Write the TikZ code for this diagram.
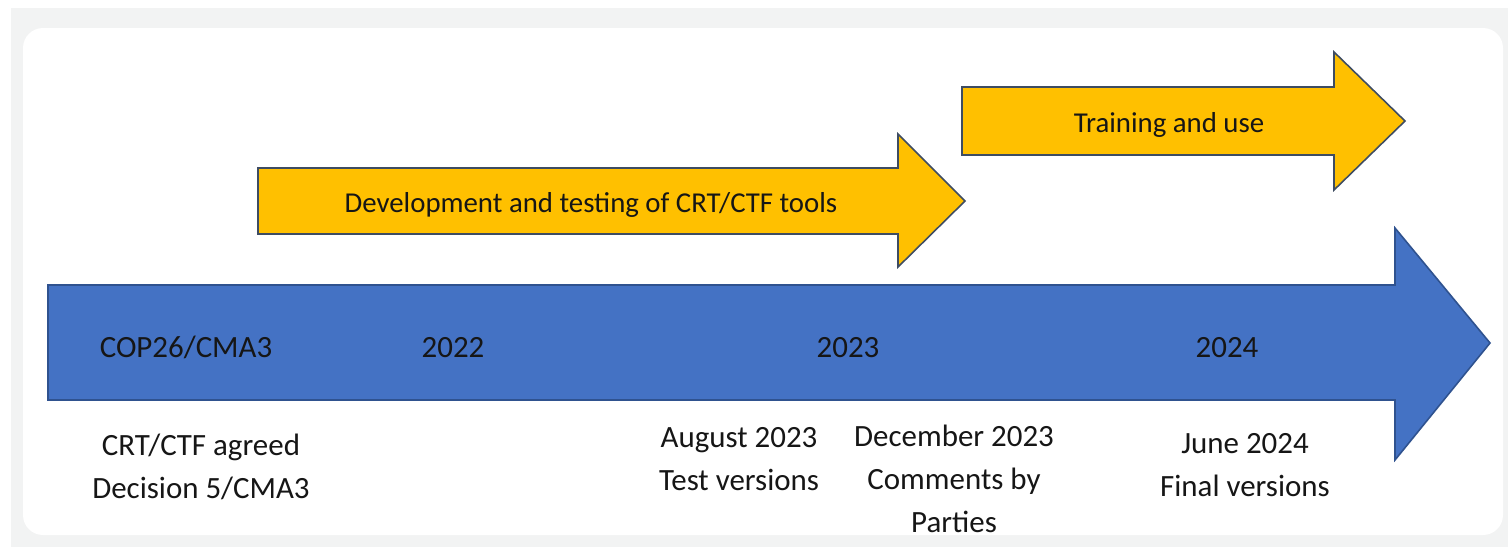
\documentclass[tikz,border=0pt]{standalone}
\usepackage{fontspec}
\setmainfont{Carlito}
\usepackage{xcolor}
\usepackage{tikz}

\definecolor{pagegray}{HTML}{F2F3F3}
\definecolor{bandblue}{HTML}{4472C4}
\definecolor{bandedge}{HTML}{2F528F}
\definecolor{toolyellow}{HTML}{FFC000}
\definecolor{tooledge}{HTML}{3E4C62}
\definecolor{labelink}{HTML}{161616}

\begin{document}
\begin{tikzpicture}[x=0.02cm, y=-0.02cm,
  bigarrow/.style={fill=bandblue, draw=bandedge, line width=0.9pt},
  toolarrow/.style={fill=toolyellow, draw=tooledge, line width=0.9pt},
  toollbl/.style={anchor=base, text=labelink, inner sep=0pt, font=\fontsize{16.4}{20}\selectfont},
  yearlbl/.style={anchor=base, text=labelink, inner sep=0pt, font=\fontsize{17.6}{22}\selectfont},
  notelbl/.style={anchor=base, text=labelink, inner sep=0pt, align=center, font=\fontsize{17.6}{24.2}\selectfont}]
  \useasboundingbox (0,0) rectangle (1508,549);
  \fill[pagegray] (11,8) rectangle (1508,547);
  \fill[white, rounded corners=0.4cm] (23,28) rectangle (1503,535);

  % timeline band
  \draw[bigarrow] (48,285) -- (1395,285) -- (1395,228) -- (1490,343)
    -- (1395,460) -- (1395,400) -- (48,400) -- cycle;
  % tool arrows
  \draw[toolarrow] (258,168) -- (898,168) -- (898,134) -- (965,201)
    -- (898,267) -- (898,234) -- (258,234) -- cycle;
  \draw[toolarrow] (962,87) -- (1334,87) -- (1334,52) -- (1405,121)
    -- (1334,190) -- (1334,155) -- (962,155) -- cycle;

  \node[toollbl] (devlbl)   at (591,212) {Development and testing of CRT/CTF tools};
  \node[toollbl] (trainlbl) at (1169,132) {Training and use};

  \node[yearlbl] (cop)   at (186,357)  {COP26/CMA3};
  \node[yearlbl] (y2022) at (453,357)  {2022};
  \node[yearlbl] (y2023) at (848,357)  {2023};
  \node[yearlbl] (y2024) at (1227,357) {2024};

  % notes below the band (base = last line)
  \node[notelbl] (agreed) at (201,498) {CRT/CTF agreed\\Decision 5/CMA3};
  \node[notelbl] (aug)    at (739,490) {August 2023\\Test versions};
  \node[notelbl] (dec)    at (954,532) {December 2023\\Comments by\\Parties};
  \node[notelbl] (jun)    at (1245,496) {June 2024\\Final versions};
\end{tikzpicture}
\end{document}
